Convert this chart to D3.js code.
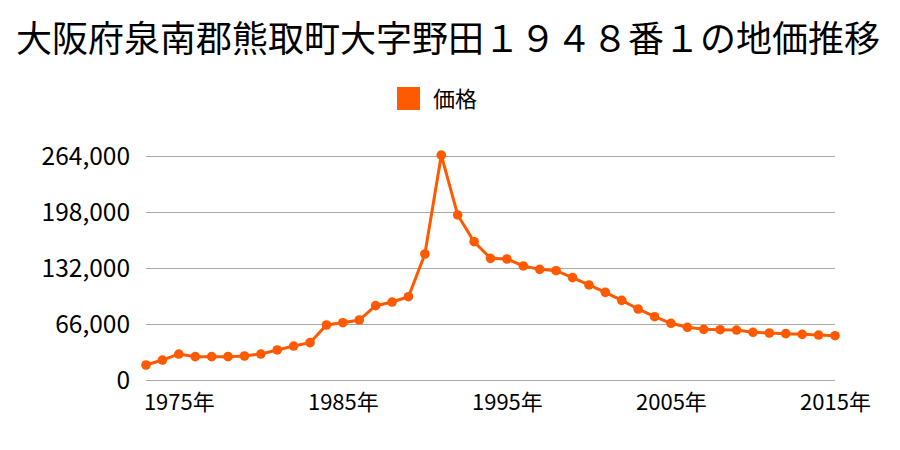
<!DOCTYPE html>
<html><head><meta charset="utf-8">
<script src="https://cdn.jsdelivr.net/npm/d3@7"></script>
<style>body{margin:0;background:#fff;} text{font-family:"Noto Sans CJK JP","Noto Sans",sans-serif;}</style>
</head><body>
<svg id="c" width="900" height="450"></svg>
<script>
const title = "大阪府泉南郡熊取町大字野田１９４８番１の地価推移";
const seriesName = "価格";
const years = d3.range(1973, 2016);
const values = [17700, 23500, 30600, 27500, 27500, 27500, 28300, 30600, 35400, 40000, 44000,
  64800, 67500, 70700, 87600, 91900, 98200, 148500, 265000, 194500, 163000,
  143400, 142600, 134400, 130400, 128800, 120600, 112000, 103300, 93900, 83700, 74600, 66800,
  62100, 59700, 59300, 58900, 56200, 55400, 54600, 53800, 53000, 52200];
const yTicks = [0, 66000, 132000, 198000, 264000];
const xTickYears = [1975, 1985, 1995, 2005, 2015];
const color = "#ff5a00";

const svg = d3.select("#c");
const x = d3.scaleLinear().domain([1973, 2015]).range([146, 835]);
const y = d3.scaleLinear().domain([0, 264000]).range([380, 156]);

svg.append("text").attr("x", 448).attr("y", 52).attr("text-anchor", "middle")
  .attr("font-size", 36).attr("fill", "#000").text(title);

svg.append("rect").attr("x", 397).attr("y", 87).attr("width", 23).attr("height", 23).attr("fill", color);
svg.append("text").attr("x", 433).attr("y", 107).attr("font-size", 22).attr("fill", "#000").text(seriesName);

const yAxis = svg.append("g").attr("transform", "translate(146,0)")
  .call(d3.axisLeft(y).tickValues(yTicks).tickSize(-(835 - 146)).tickPadding(16).tickFormat(d3.format(",")));
yAxis.select(".domain").remove();
yAxis.selectAll("line").attr("stroke", "#aaa").attr("stroke-width", 1);
yAxis.selectAll("text").attr("font-size", 24.5).attr("fill", "#000").attr("dy", "0.35em");

const xAxis = svg.append("g").attr("transform", "translate(0,380)")
  .call(d3.axisBottom(x).tickValues(xTickYears).tickSize(0).tickPadding(14).tickFormat(d => d + "年"));
xAxis.select(".domain").remove();
xAxis.selectAll("text").attr("font-size", 22).attr("fill", "#000");

const data = years.map((yr, i) => ({yr, v: values[i]}));
svg.append("path").datum(data).attr("fill", "none").attr("stroke", color).attr("stroke-width", 3)
  .attr("d", d3.line().x(d => x(d.yr)).y(d => y(d.v)));
svg.selectAll("circle.pt").data(data).enter().append("circle").attr("class", "pt")
  .attr("cx", d => x(d.yr)).attr("cy", d => y(d.v)).attr("r", 4.8).attr("fill", color);
</script>
</body></html>
